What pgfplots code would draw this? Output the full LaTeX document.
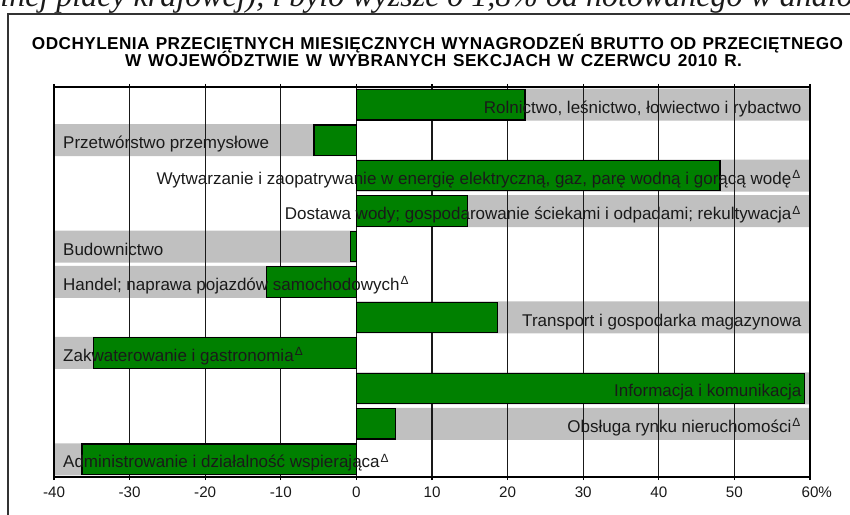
\documentclass[border=0pt]{standalone}
\usepackage{fontspec}
\setmainfont{Liberation Sans}
\newfontfamily\serifrm{Liberation Serif}
\newfontfamily\titlefont{Liberation Sans Bold}[LetterSpace=2.5]
\usepackage{pgfplots}
\pgfplotsset{compat=1.18}
\definecolor{bargreen}{RGB}{0,128,0}
\definecolor{bandgray}{RGB}{192,192,192}
\definecolor{txt}{RGB}{26,26,26}
\newcommand{\tr}{\textsuperscript{\kern0.5pt Δ}}
\begin{document}
\begin{tikzpicture}
\begin{pgfinterruptboundingbox}
\begin{scope}
\clip (0,0) rectangle (425pt,257pt);
\node[anchor=base west, inner sep=0, text=txt] at (0pt,253.75pt) {\serifrm\itshape\fontsize{16pt}{18pt}\selectfont lnej płacy krajowej), i było wyższe o 1,8\% od notowanego w analogicznym};
\draw[line width=1pt, color=black!80] (4pt,-5pt) -- (4pt,250pt) -- (430pt,250pt);
\end{scope}
\end{pgfinterruptboundingbox}
\node[anchor=base, inner sep=0] at (218.75pt,232.1pt) {\fontsize{8.6pt}{10pt}\titlefont\makebox[405.5pt][s]{ODCHYLENIA PRZECIĘTNYCH MIESIĘCZNYCH WYNAGRODZEŃ BRUTTO OD PRZECIĘTNEGO}};
\node[anchor=base, inner sep=0] at (216.75pt,223.6pt) {\fontsize{8.6pt}{10pt}\titlefont\makebox[308.5pt][s]{W WOJEWÓDZTWIE W WYBRANYCH SEKCJACH W CZERWCU 2010 R.}};
\begin{axis}[
  at={(27pt,18.5pt)}, anchor=south west, scale only axis,
  width=378pt, height=195pt,
  xmin=-40, xmax=60, ymin=-0.5, ymax=10.5, y dir=reverse,
  xtick={-40,-30,-20,-10,0,10,20,30,40,50,60},
  xticklabels={-40,-30,-20,-10,0,10,20,30,40,50,60\makebox[0pt][l]{\%}},
  ytick=\empty,
  xmajorgrids, grid style={black!90, line width=0.6pt},
  tick align=outside, major tick length=1.5pt,
  tick style={black, line width=0.6pt},
  axis line style={black, line width=0.7pt},
  xbar, bar shift=0pt,
  set layers,
  /pgf/number format/assume math mode=true,
  xticklabel style={font=\fontsize{7.6pt}{9pt}\selectfont, text=txt},
  clip=false,
]
\addplot[on layer=axis background, xbar, bar width=16pt, fill=bandgray, draw=none]
  coordinates {(60,0) (-40,1) (60,2) (60,3) (-40,4) (-40,5) (60,6) (-40,7) (60,8) (60,9) (-40,10)};
\addplot[xbar, bar width=15.25pt, fill=bargreen, draw=black, line width=0.6pt]
  coordinates {(22.3,0) (-5.6,1) (48.1,2) (14.7,3) (-0.8,4) (-11.9,5) (18.7,6) (-34.8,7) (59.3,8) (5.2,9) (-36.3,10)};
\tikzset{rl/.style={anchor=base east, inner sep=0, xshift=-4.15pt, yshift=-4.3pt, text=txt, font=\fontsize{8.5pt}{10pt}\selectfont},
         ll/.style={anchor=base west, inner sep=0, xshift=4.4pt, yshift=-4.3pt, text=txt, font=\fontsize{8.5pt}{10pt}\selectfont}}
\node[rl] at (axis cs:60,0) {Rolnictwo, leśnictwo, łowiectwo i rybactwo};
\node[ll] at (axis cs:-40,1) {Przetwórstwo przemysłowe};
\node[rl] at (axis cs:60,2) {Wytwarzanie i zaopatrywanie w energię elektryczną, gaz, parę wodną i gorącą wodę\tr};
\node[rl] at (axis cs:60,3) {Dostawa wody; gospodarowanie ściekami i odpadami; rekultywacja\tr};
\node[ll] at (axis cs:-40,4) {Budownictwo};
\node[ll] at (axis cs:-40,5) {Handel; naprawa pojazdów samochodowych\tr};
\node[rl] at (axis cs:60,6) {Transport i gospodarka magazynowa};
\node[ll] at (axis cs:-40,7) {Zakwaterowanie i gastronomia\tr};
\node[rl] at (axis cs:60,8) {Informacja i komunikacja};
\node[rl] at (axis cs:60,9) {Obsługa rynku nieruchomości\tr};
\node[ll] at (axis cs:-40,10) {Administrowanie i działalność wspierająca\tr};
\end{axis}
\path (0,0) rectangle (425pt,257pt);
\end{tikzpicture}
\end{document}
